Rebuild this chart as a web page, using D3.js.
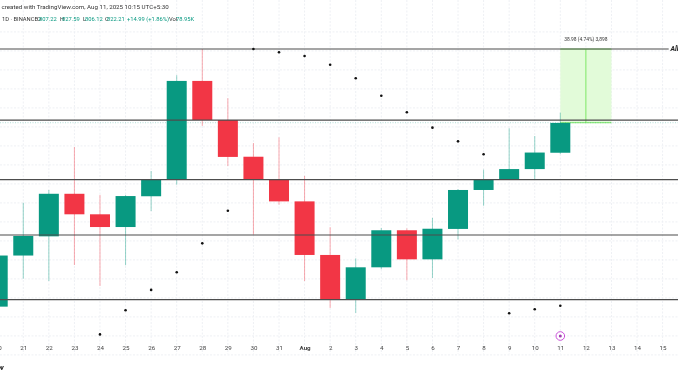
<!DOCTYPE html>
<html><head><meta charset="utf-8">
<script src="https://cdn.jsdelivr.net/npm/d3@7"></script>
<style>
html,body{margin:0;padding:0;background:#fff;overflow:hidden}
svg{display:block;filter:blur(0.3px)}
text{font-family:Roboto,"Liberation Sans",sans-serif}
.tick line,.domain{display:none}
</style></head><body><svg id="c" width="678" height="381"></svg>
<script>
const categories=["20","21","22","23","24","25","26","27","28","29","30","31","Aug","2","3","4","5","6","7","8","9","10","11","12","13","14","15"];
const candleDays=["20","21","22","23","24","25","26","27","28","29","30","31","Aug","2","3","4","5","6","7","8","9","10","11"];
const opens =[725.4,752.3,762.4,784.8,774.0,767.3,783.5,792.1,844.2,823.6,804.3,792.1,780.8,752.6,729.1,746.1,765.6,750.3,766.3,786.8,792.1,797.8,806.4];
const closes=[752.3,762.6,784.8,774.0,767.3,783.6,792.1,844.2,823.6,804.2,792.1,780.8,752.6,729.1,746.1,765.6,750.3,766.4,786.8,792.1,797.8,806.5,822.1];
const highs =[755.0,780.1,786.8,809.4,784.2,784.2,796.8,847.2,861.0,835.1,811.5,814.5,794.2,767.2,750.8,766.8,766.6,772.1,787.3,797.5,819.3,815.2,827.5];
const lows  =[722.0,740.1,738.9,747.3,736.3,747.2,775.7,789.6,820.5,799.4,763.3,779.1,738.9,724.7,722.1,745.1,739.3,740.5,760.8,778.5,792.1,792.4,805.7];
const dotDays=["24","25","26","27","28","29","30","31","Aug","2","3","4","5","6","7","8","9","10","11"];
const dotValues=[710.8,723.5,734.2,743.5,758.7,775.9,861.0,859.3,857.3,852.7,845.6,836.4,827.7,819.6,812.4,805.6,721.9,724.0,725.9];
const levels=[861.0,823.6,792.2,763.1,729.1];
const gridPrices=[870,860,850,840,830,820,810,800,790,780,770,760,750,740,730,720,710,700];
const lastClose=822.2;
const measureTop=861.0, measureBottom=822.2;
const measureDays=["11","12","13"];
const measureLabel="38.98 (4.74%) 3,898";
const headerLine1="created with TradingView.com, Aug 11, 2025 10:15 UTC+5:30";
const ohlc=[["1D · BINANCE","#333"],["O","#333"],["807.22","#089981"],["H","#333"],["827.59","#089981"],["L","#333"],["806.12","#089981"],["C","#333"],["822.21","#089981"],["+14.99 (+1.86%)","#089981"],["Vol","#333"],["78.95K","#089981"]];

const svg=d3.select("#c");
const W=678,H=381;
const x=d3.scalePoint().domain(categories).range([-2.3,662.6]);
const y=d3.scaleLinear().domain([861,700]).range([49,354.9]);
const GREEN="#089981",RED="#f23645";

// grid
svg.append("g").selectAll("line").data(categories).join("line")
  .attr("x1",d=>x(d)).attr("x2",d=>x(d)).attr("y1",0).attr("y2",354)
  .attr("stroke","#eef0f4").attr("stroke-width",1).attr("stroke-dasharray","2 1.5");
svg.append("g").selectAll("line").data(gridPrices).join("line")
  .attr("x1",0).attr("x2",W).attr("y1",d=>y(d)).attr("y2",d=>y(d))
  .attr("stroke","#eef0f4").attr("stroke-width",1).attr("stroke-dasharray","2 1.5");

// measure box
const mx0=x(measureDays[0]),mx1=x(measureDays[2]),mxm=x(measureDays[1]);
svg.append("rect").attr("x",mx0).attr("width",mx1-mx0).attr("y",y(measureTop)).attr("height",y(measureBottom)-y(measureTop)).attr("fill","#e2fbd9");
[measureTop,measureBottom].forEach(p=>svg.append("line").attr("x1",mx0).attr("x2",mx1).attr("y1",y(p)).attr("y2",y(p)).attr("stroke","#7ee766").attr("stroke-width",1));
svg.append("line").attr("x1",mxm).attr("x2",mxm).attr("y1",y(measureTop)).attr("y2",y(measureBottom)).attr("stroke","#7ee766").attr("stroke-width",1);
svg.append("text").attr("x",mxm).attr("y",y(measureTop)-8.3).attr("text-anchor","middle").attr("font-size",4.9).attr("fill","#333").text(measureLabel);

// last price dotted
svg.append("line").attr("x1",0).attr("x2",W).attr("y1",y(lastClose)).attr("y2",y(lastClose))
  .attr("stroke",GREEN).attr("stroke-opacity",.3).attr("stroke-dasharray","1 1.5");

// candles
const candles=candleDays.map((d,i)=>({d,o:opens[i],c:closes[i],h:highs[i],l:lows[i]}));
const bw=20;
const g=svg.append("g");
g.selectAll("line.w").data(candles).join("line").attr("class","w")
  .attr("x1",d=>x(d.d)).attr("x2",d=>x(d.d)).attr("y1",d=>y(d.h)).attr("y2",d=>y(d.l))
  .attr("stroke",d=>d.c>=d.o?GREEN:RED).attr("stroke-opacity",.42).attr("stroke-width",1);
g.selectAll("rect").data(candles).join("rect")
  .attr("x",d=>x(d.d)-bw/2).attr("width",bw)
  .attr("y",d=>y(Math.max(d.o,d.c))).attr("height",d=>Math.abs(y(d.o)-y(d.c)))
  .attr("fill",d=>d.c>=d.o?GREEN:RED);

// levels
svg.append("g").selectAll("line").data(levels).join("line")
  .attr("x1",0).attr("x2",(d,i)=>i===0?668.7:W).attr("y1",d=>y(d)).attr("y2",d=>y(d))
  .attr("stroke","#4d4d4d").attr("stroke-width",1.2);
svg.append("text").attr("x",670.5).attr("y",y(levels[0])+2.4).attr("font-size",7).attr("font-style","italic").attr("font-weight",700).attr("fill","#222").text("All");

// dots
svg.append("g").selectAll("circle").data(dotDays).join("circle")
  .attr("cx",d=>x(d)).attr("cy",(d,i)=>y(dotValues[i])).attr("r",1.3).attr("fill","#111");

// axis
const axis=d3.axisBottom(x).tickSize(0).tickPadding(0);
const ax=svg.append("g").attr("transform","translate(0,344)").call(axis);
ax.selectAll("text").attr("font-size",6.2).attr("fill","#444").attr("font-family","Roboto,sans-serif")
  .attr("font-weight",d=>d==="Aug"?700:400).attr("dy","0.35em").attr("y",4);

// event icon
const ic=svg.append("g").attr("transform",`translate(${x("11")},336)`);
ic.append("circle").attr("r",4.3).attr("fill","#fff").attr("stroke","#c94fd8").attr("stroke-width",1);
ic.append("circle").attr("r",1.5).attr("fill","#a040b0");

// header
svg.append("text").attr("x",1.5).attr("y",8.6).attr("font-size",6.2).attr("fill","#333").text(headerLine1);
const posX=[2,37,39,60,62,83,85,105,107,127,169,176];
svg.append("g").selectAll("text").data(ohlc).join("text")
  .attr("x",(d,i)=>posX[i]).attr("y",21).attr("font-size",5.8).attr("fill",d=>d[1]).text(d=>d[0]);
svg.append("text").attr("x",-2).attr("y",370).attr("font-size",8).attr("font-weight",700).attr("font-style","italic").attr("fill","#222").text("w");
</script></body></html>
